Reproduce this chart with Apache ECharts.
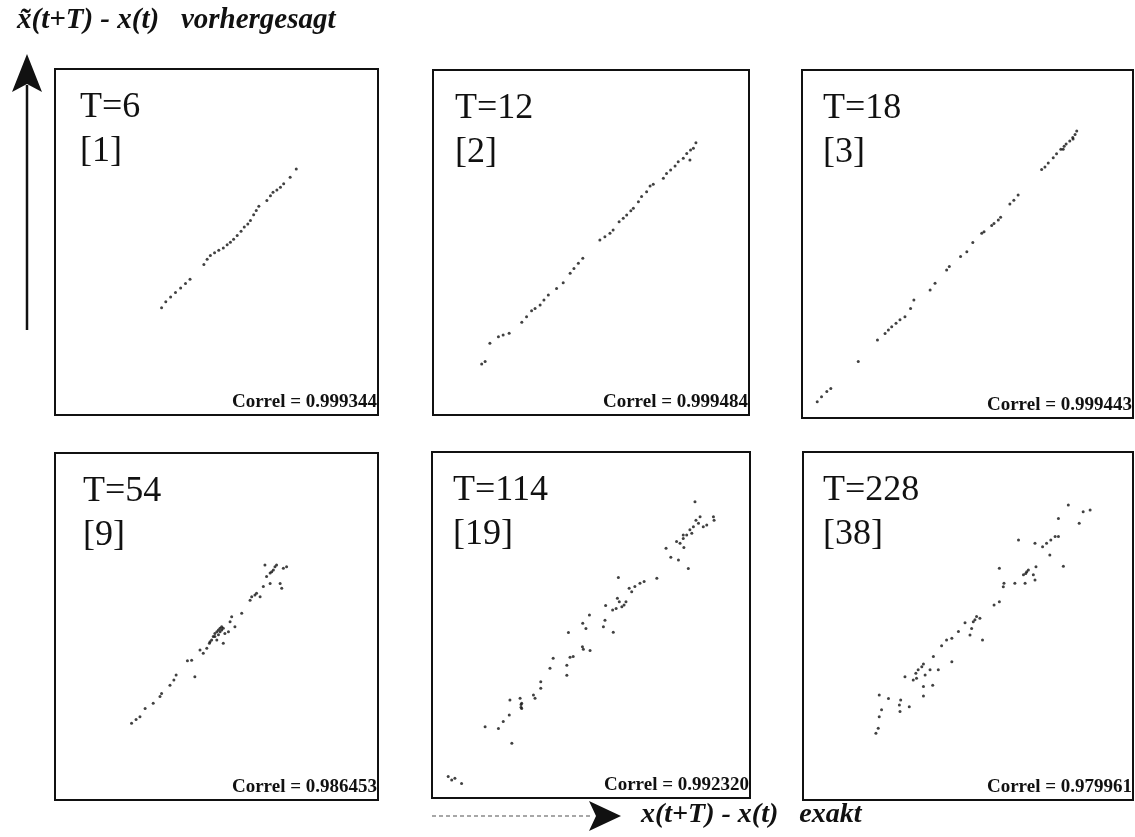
<!DOCTYPE html>
<html>
<head>
<meta charset="utf-8">
<script src="https://cdn.jsdelivr.net/npm/echarts@6/dist/echarts.min.js"></script>
<style>
  html, body { margin: 0; padding: 0; background: #fff; }
  #chart { width: 1135px; height: 837px; }
</style>
</head>
<body>
<div id="chart"></div>
<script>
// Prediction horizons, step counts and correlation coefficients for the six panels
const horizons = [6, 12, 18, 54, 114, 228];
const steps = [1, 2, 3, 9, 19, 38];
const correls = [0.999344, 0.999484, 0.999443, 0.986453, 0.992320, 0.979961];

// Axis titles
const yTitle = 'x\u0303(t+T) - x(t)   vorhergesagt';
const xTitle = 'x(t+T) - x(t)   exakt';

// [exact, predicted] pairs, both on a 0–100 scale per panel
const pointsT6 = [
  [33.0,31.0],[34.3,32.7],[35.8,34.1],[37.3,35.4],[38.9,36.7],[40.4,38.0],[41.8,39.2],
  [46.1,43.5],[47.1,45.0],[48.1,46.1],[49.4,46.9],[50.7,47.6],[52.1,48.3],[53.3,49.2],
  [54.3,49.9],[55.3,50.8],[56.4,51.9],[57.6,53.1],[58.6,54.3],[59.7,55.2],[60.5,56.2],
  [61.5,57.9],[62.3,59.1],[63.1,60.3],[65.6,62.0],[66.7,63.4],[67.5,64.4],[68.7,65.0],
  [69.8,65.8],[70.8,66.8],[72.8,68.7],[74.7,71.1]
];
const pointsT12 = [
  [15.4,14.8],[16.5,15.5],[18.0,20.8],[20.7,22.7],[22.2,23.2],[24.1,23.7],[28.1,26.9],
  [29.6,28.5],[31.2,30.2],[32.3,30.9],[33.9,31.9],[35.1,33.3],[36.5,34.8],[39.1,36.7],
  [41.2,38.3],[43.4,41.1],[44.6,42.5],[46.0,44.0],[47.4,45.4],[52.8,50.7],[54.4,51.7],
  [56.0,52.7],[57.0,53.6],[58.9,56.0],[60.2,57.0],[61.3,58.0],[62.6,59.2],[63.4,59.9],
  [65.0,61.8],[66.0,63.3],[67.6,64.7],[68.7,66.4],[69.7,66.9],[72.9,68.6],[73.9,70.0],
  [75.2,71.0],[76.6,72.2],[77.6,73.4],[79.2,74.4],[80.3,75.8],[81.5,76.8],[82.4,77.3],
  [83.2,78.9],[81.3,73.9]
];
const pointsT18 = [
  [4.6,4.7],[5.9,6.1],[7.5,7.6],[8.7,8.5],[17.0,16.2],[22.8,22.4],[25.1,24.3],[26.1,25.3],
  [27.1,26.2],[28.4,27.2],[29.6,28.2],[31.1,29.1],[32.8,31.5],[33.8,33.9],[38.7,36.8],
  [40.2,38.7],[43.7,42.5],[44.5,43.5],[47.9,46.4],[49.8,47.8],[51.6,50.4],[54.3,53.1],
  [55.0,53.5],[57.3,55.3],[58.0,55.9],[59.3,56.9],[60.0,57.7],[62.8,61.5],[64.0,62.6],
  [65.3,64.1],[72.4,71.4],[73.4,72.1],[74.4,73.3],[75.9,74.8],[76.9,75.9],[78.2,77.2],
  [79.2,78.1],[79.8,78.7],[80.9,79.6],[81.8,80.6],[82.5,81.5],[83.0,82.5],[81.9,80.2],
  [78.9,77.2]
];
const pointsT54 = [
  [23.7,22.1],[25.1,23.2],[26.3,24.0],[27.9,26.4],[30.4,27.9],[32.5,29.8],[33.0,30.7],
  [35.6,33.1],[36.8,34.6],[37.5,36.0],[41.0,40.1],[42.3,40.3],[43.3,35.5],[44.9,43.2],
  [45.9,42.3],[47.0,43.7],[47.8,45.2],[48.5,46.1],[49.0,47.1],[49.5,48.0],[50.1,48.5],
  [50.6,49.0],[51.1,49.5],[51.6,49.9],[52.1,49.5],[52.6,48.0],[52.1,45.2],[53.7,48.5],
  [54.2,51.4],[54.7,52.8],[55.7,49.9],[57.8,53.8],[60.4,57.6],[60.9,58.6],[61.9,59.1],
  [62.4,59.6],[63.5,58.6],[64.5,61.5],[65.5,64.4],[66.6,65.4],[67.1,65.8],[67.6,66.3],
  [68.1,67.2],[68.6,67.7],[69.7,62.4],[70.2,61.0],[70.7,66.8],[71.7,67.2],[65.0,67.7],
  [66.6,62.4],[49.5,47.1],[50.6,47.6],[51.1,48.5],[50.1,46.1],[51.6,49.0],[48.0,45.6]
];
const pointsT114 = [
  [5.1,6.2],[6.2,5.2],[7.2,5.7],[9.3,4.2],[16.7,20.6],[20.9,20.1],[22.4,22.1],[24.3,24.0],
  [24.5,28.3],[25.1,15.8],[27.7,28.8],[28.2,27.4],[28.2,25.9],[31.9,29.8],[32.4,28.8],
  [34.2,31.7],[34.2,33.6],[37.1,37.5],[38.1,40.4],[42.4,38.4],[42.4,35.5],[42.9,47.8],
  [43.4,40.7],[44.4,40.9],[47.3,43.7],[47.6,43.0],[49.7,42.6],[47.4,50.5],[48.4,49.0],
  [49.5,52.9],[53.9,49.5],[54.4,51.4],[54.6,55.6],[57.0,47.9],[56.8,54.3],[57.9,54.8],
  [58.3,57.7],[58.6,63.7],[58.9,56.7],[59.7,55.3],[60.4,55.8],[61.0,56.7],[62.0,60.6],
  [62.8,59.6],[63.8,61.1],[65.4,62.1],[66.7,62.6],[70.7,63.5],[73.6,72.2],[75.1,69.6],
  [77.5,68.8],[78.0,73.6],[79.0,75.0],[79.2,72.4],[80.1,76.0],[80.6,66.3],[81.1,77.5],
  [81.7,76.5],[82.2,78.4],[82.7,85.6],[83.0,80.3],[83.8,79.4],[84.3,81.3],[85.3,78.4],
  [86.4,78.9],[88.5,81.3],[88.7,80.3],[76.9,74.1],[79.0,76.0],[28.0,27.0],[28.0,26.2]
];
const pointsT228 = [
  [22.1,19.2],[22.8,20.6],[23.1,23.9],[23.8,25.9],[23.1,30.2],[25.9,29.2],[29.2,27.3],
  [29.4,25.4],[29.6,28.7],[32.2,26.8],[30.9,35.4],[33.4,34.5],[34.2,36.4],[34.9,37.4],
  [36.0,38.3],[36.5,32.6],[36.5,29.9],[37.0,35.9],[36.5,39.1],[38.5,37.4],[39.3,33.0],
  [39.5,41.2],[41.0,37.4],[42.0,44.3],[43.5,46.0],[45.1,46.5],[45.1,39.7],[47.1,48.4],
  [49.1,50.9],[50.6,47.4],[51.1,49.3],[51.6,51.2],[52.6,52.7],[53.6,52.2],[54.4,46.0],
  [57.9,56.0],[59.5,57.0],[59.5,66.6],[60.7,61.3],[60.9,62.3],[64.2,62.3],[65.3,74.7],
  [66.8,64.7],[67.3,62.3],[67.8,65.6],[68.3,66.1],[69.8,64.7],[70.3,63.2],[70.6,67.0],
  [70.3,73.8],[72.6,72.8],[73.8,73.8],[74.8,70.4],[75.1,74.7],[76.4,75.7],[77.4,75.7],
  [77.4,80.9],[78.9,67.2],[80.4,84.8],[83.7,79.5],[84.9,82.8],[87.0,83.3],[67.5,65.1],
  [34.4,35.0],[52.1,51.8]
];

const panelPoints = [pointsT6, pointsT12, pointsT18, pointsT54, pointsT114, pointsT228];

// Panel frames in pixels: [left, top, width, height], plus label inset
const boxes = [
  [55, 69, 323, 346], [433, 70, 316, 345], [802, 70, 331, 348],
  [55, 453, 323, 347], [432, 452, 318, 346], [803, 452, 330, 348]
];
const labelInset = [25, 22, 21, 28, 21, 20];

const serif = '"Liberation Serif", "DejaVu Serif", serif';

const grids = [], xAxes = [], yAxes = [], series = [], graphics = [];

boxes.forEach((b, i) => {
  const [left, top, w, h] = b;
  grids.push({
    left: left, top: top, width: w, height: h,
    show: true, borderColor: '#111', borderWidth: 2, backgroundColor: 'transparent'
  });
  xAxes.push({ gridIndex: i, type: 'value', min: 0, max: 100, show: false });
  yAxes.push({ gridIndex: i, type: 'value', min: 0, max: 100, show: false });
  series.push({
    type: 'scatter', xAxisIndex: i, yAxisIndex: i,
    data: panelPoints[i], symbol: 'circle', symbolSize: 3,
    itemStyle: { color: '#111' }, silent: true, animation: false
  });
  // Horizon label and step count
  graphics.push({
    type: 'text', left: left + labelInset[i], top: top + 17, silent: true,
    style: {
      text: 'T=' + horizons[i] + '\n[' + steps[i] + ']',
      font: '36px ' + serif, lineHeight: 44, fill: '#111'
    }
  });
  // Correlation coefficient
  graphics.push({
    type: 'text', x: left + w - 1, y: top + h - 3, silent: true,
    style: {
      text: 'Correl = ' + correls[i].toFixed(6),
      font: 'bold 19px ' + serif, fill: '#111',
      align: 'right', verticalAlign: 'bottom'
    }
  });
});

// Axis titles and direction arrows
graphics.push(
  {
    type: 'text', x: 17, y: 6, silent: true,
    style: { text: yTitle, font: 'italic bold 29px ' + serif, fill: '#111' }
  },
  {
    type: 'line', silent: true,
    shape: { x1: 27, y1: 330, x2: 27, y2: 85 },
    style: { stroke: '#111', lineWidth: 2.5 }
  },
  {
    type: 'polygon', silent: true,
    shape: { points: [[27, 54], [42, 92], [27, 84], [12, 92]] },
    style: { fill: '#111' }
  },
  {
    type: 'line', silent: true,
    shape: { x1: 432, y1: 816, x2: 593, y2: 816 },
    style: { stroke: '#8a8a8a', lineWidth: 1.5, lineDash: [4, 3] }
  },
  {
    type: 'polygon', silent: true,
    shape: { points: [[589, 801], [621, 816], [589, 831], [596, 816]] },
    style: { fill: '#111' }
  },
  {
    type: 'text', x: 641, y: 801, silent: true,
    style: { text: xTitle, font: 'italic bold 28px ' + serif, fill: '#111' }
  }
);

const chart = echarts.init(document.getElementById('chart'), null, { renderer: 'canvas' });
chart.setOption({
  backgroundColor: '#fff',
  animation: false,
  grid: grids,
  xAxis: xAxes,
  yAxis: yAxes,
  series: series,
  graphic: graphics
});
</script>
</body>
</html>
